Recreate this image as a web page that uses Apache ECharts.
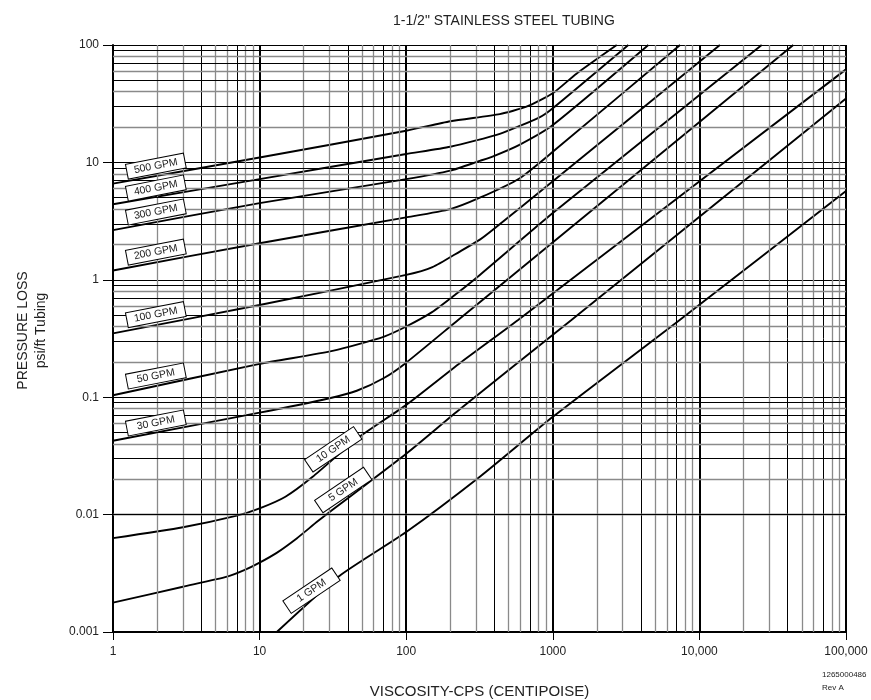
<!DOCTYPE html>
<html><head><meta charset="utf-8">
<script src="https://cdn.jsdelivr.net/npm/echarts@6/dist/echarts.min.js"></script>
<style>html,body{margin:0;padding:0;background:#fff}#c{width:871px;height:700px}</style>
</head><body><div id="c"></div>
<script>
const FONT = "'Liberation Sans Narrow','Liberation Sans',Arial,sans-serif";

// ---- data (viscosity cps, pressure loss psi/ft) ----
const curveNames = ['500 GPM','400 GPM','300 GPM','200 GPM','100 GPM','50 GPM','30 GPM','10 GPM','5 GPM','1 GPM'];
const gpm500 = [[1,6.6],[10,11.0],[100,18.6],[200,22.4],[435,25.8],[661,29.8],[1000,38.8],[1450,57],[2730,100]];
const gpm400 = [[1,4.4],[10,7.2],[100,11.8],[200,13.6],[435,17.5],[811,24.2],[1000,28.9],[3275,100]];
const gpm300 = [[1,2.65],[10,4.5],[100,7.2],[200,8.5],[318,10.3],[388,11.2],[592,14.1],[1000,20.8],[4485,100]];
const gpm200 = [[1,1.2],[10,2.05],[100,3.4],[200,4.0],[318,5.0],[592,7.3],[1000,12.3],[7380,100]];
const gpm100 = [[1,0.35],[10,0.61],[100,1.1],[151,1.28],[232,1.74],[318,2.2],[388,2.66],[1000,6.9],[13800,100]];
const gpm50  = [[1,0.104],[10,0.192],[32,0.249],[70,0.327],[100,0.40],[150,0.53],[220,0.76],[318,1.1],[1000,3.7],[26600,100]];
const gpm30  = [[1,0.0426],[10,0.0738],[30,0.098],[46,0.1135],[70,0.145],[100,0.197],[226,0.455],[43700,100]];
const gpm10  = [[1,0.0063],[3,0.0078],[7,0.0098],[10,0.0113],[15,0.0142],[23,0.021],[48,0.046],[100,0.086],[232,0.195],[580,0.455],[100000,62]];
const gpm5   = [[1,0.00178],[3,0.00243],[6,0.00296],[8,0.0034],[10,0.0039],[13,0.0047],[18,0.0063],[25,0.0088],[40,0.0138],[100,0.033],[232,0.079],[1340,0.455],[100000,35]];
const gpm1   = [[13.1,0.001],[35,0.003],[100,0.0071],[318,0.021],[1000,0.068],[7340,0.455],[100000,5.7]];
const curveData = [gpm500,gpm400,gpm300,gpm200,gpm100,gpm50,gpm30,gpm10,gpm5,gpm1];

// label anchors (data coords) and tilt
const labelCoords = [[1.96,9.3],[1.96,6.05],[1.96,3.78],[1.96,1.72],[1.96,0.505],[1.96,0.1516],[1.96,0.0603],[31.8,0.036],[37.2,0.0162],[22.6,0.00225]];
const labelAngles = [11,11,11,11,11,11,11,34,34,34];

// axis ticks
const xTickLabels = ['1','10','100','1000','10,000','100,000'];
const yTickLabels = ['0.001','0.01','0.1','1','10','100'];
const xDecades = [1,10,100,1000,10000];
const yDecades = [0.001,0.01,0.1,1,10];
const minorMultiples = [2,3,4,5,6,7,8,9];

const GRAY = '#8a8a8a';
const vMinor = [], hMinor = [];
xDecades.forEach(d => minorMultiples.forEach(m => {
  const dark = (m === 4 || m === 7);
  vMinor.push({xAxis: m*d, lineStyle:{color: dark ? '#000' : GRAY, width: dark ? 1 : 1.3, type:'solid'}});
}));
yDecades.forEach(d => minorMultiples.forEach(m => {
  const dark = (m % 2 === 1);
  hMinor.push({yAxis: m*d, lineStyle:{color: dark ? '#000' : GRAY, width: dark ? 1 : 1.3, type:'solid'}});
}));

const series = [{
  type:'line', data:[], silent:true, z:1,
  markLine:{silent:true, symbol:['none','none'], label:{show:false}, animation:false,
    emphasis:{disabled:true}, data: vMinor.concat(hMinor)}
}];
curveNames.forEach((n,i) => {
  series.push({
    name:n, type:'line', data:curveData[i], showSymbol:false, symbol:'none', smooth:0.2, z:3,
    lineStyle:{color:'#000', width:1.9}, silent:true,
    markPoint:{
      symbol:'circle', symbolSize:1, silent:true, animation:false,
      itemStyle:{color:'rgba(0,0,0,0)'},
      label:{show:true, position:'inside', formatter:n, color:'#222', fontSize:10.5, fontFamily:FONT,
        rotate:labelAngles[i], backgroundColor:'#fff', borderColor:'#000', borderWidth:1,
        width:42, align:'center', padding:[1,8,0,8], lineHeight:13},
      data:[{coord:labelCoords[i]}]
    }
  });
});

const chart = echarts.init(document.getElementById('c'), null, {renderer:'canvas'});
chart.setOption({
  animation:false,
  backgroundColor:'#fff',
  title:{text:'1-1/2" STAINLESS STEEL TUBING', left:388, top:9,
    textStyle:{fontSize:14, fontWeight:'normal', color:'#222', fontFamily:FONT}},
  grid:{left:113, right:25, top:45, bottom:68, containLabel:false, outerBoundsMode:'none'},
  xAxis:{type:'log', logBase:10, min:1, max:100000,
    name:'VISCOSITY-CPS (CENTIPOISE)', nameLocation:'middle', nameGap:52,
    nameTextStyle:{fontSize:15, color:'#222', fontFamily:FONT},
    axisLine:{show:true, lineStyle:{color:'#000', width:2}},
    axisTick:{show:true, length:8, lineStyle:{color:'#000', width:1}},
    axisLabel:{fontSize:12, color:'#222', fontFamily:FONT, margin:14,
      formatter:v => xTickLabels[Math.round(Math.log10(v))]},
    splitLine:{show:true, lineStyle:{color:'#000', width:2}}},
  yAxis:{type:'log', logBase:10, min:0.001, max:100,
    name:'PRESSURE LOSS\npsi/ft Tubing', nameLocation:'middle', nameGap:63, nameRotate:90,
    nameTextStyle:{fontSize:14, lineHeight:18, color:'#222', fontFamily:FONT, padding:[0,0,0,16]},
    axisLine:{show:true, lineStyle:{color:'#000', width:2}},
    axisTick:{show:true, length:10, lineStyle:{color:'#000', width:1}},
    axisLabel:{fontSize:12, color:'#222', fontFamily:FONT, margin:14,
      formatter:v => yTickLabels[Math.round(Math.log10(v)) + 3]},
    splitLine:{show:true, lineStyle:{color:'#000', width:1}}},
  graphic:[
    {type:'text', left:822, top:671, style:{text:'1265000486', fontSize:8, fill:'#222', fontFamily:FONT}},
    {type:'text', left:822, top:684, style:{text:'Rev A', fontSize:8, fill:'#222', fontFamily:FONT}}
  ],
  series:series
});
</script></body></html>
